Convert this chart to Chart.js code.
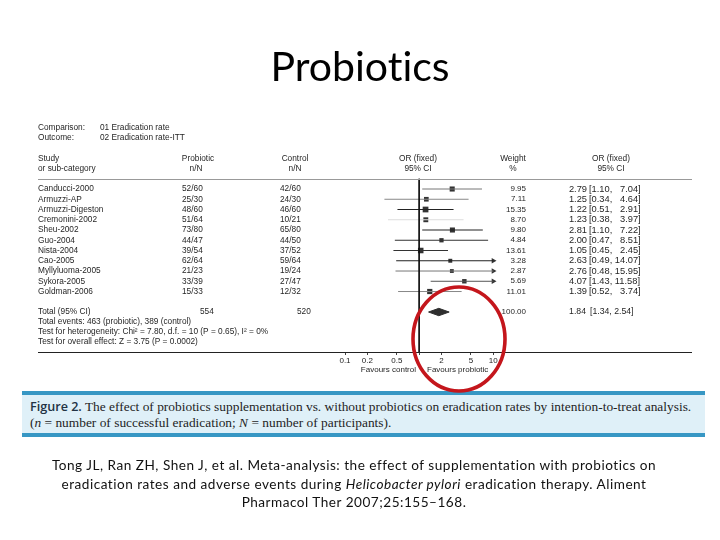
<!DOCTYPE html>
<html>
<head>
<meta charset="utf-8">
<script src="https://cdn.jsdelivr.net/npm/chart.js@4.4.1/dist/chart.umd.min.js"></script>
<style>
  html, body { margin: 0; padding: 0; background: #fff; }
  #page { position: relative; width: 720px; height: 540px; overflow: hidden; }
  #wrap { position: absolute; left: 0; top: 0; width: 720px; height: 540px; }
  h1 { position: absolute; left: 0; top: 45px; width: 720px; margin: 0; text-align: center;
       font: 400 41px/1 Lato, sans-serif; color: #000; font-variant-ligatures: none; }
  .caption { position: absolute; left: 22px; top: 391px; width: 683px; height: 46px; box-sizing: border-box;
       border-top: 4px solid #3797c4; border-bottom: 4px solid #3797c4; background: #dff0f8;
       padding: 3px 0 0 8px; font: 13.4px/16px "Liberation Serif", serif; color: #1e1e1e; white-space: nowrap; }
  .caption b { font: 600 12.6px "Open Sans", sans-serif; color: #223344; }
  .cite { position: absolute; left: -6px; top: 456px; width: 720px; text-align: center;
       font: 13.6px/18.5px Lato, sans-serif; letter-spacing: 0.5px; color: #111; font-variant-ligatures: none; }
  svg { position: absolute; left: 0; top: 0; }
</style>
</head>
<body>
<div id="page">
  <div id="wrap"><canvas id="forest"></canvas></div>
  <h1>Probiotics</h1>
  <div class="caption"><b>Figure 2.</b> The effect of probiotics supplementation vs. without probiotics on eradication rates by intention-to-treat analysis.<br>(<i>n</i> = number of successful eradication; <i>N</i> = number of participants).</div>
  <div class="cite">Tong JL, Ran ZH, Shen J, et al. Meta-analysis: the effect of supplementation with probiotics on<br>eradication rates and adverse events during <i>Helicobacter pylori</i> eradication therapy. Aliment<br>Pharmacol Ther 2007;25:155–168.</div>
  <svg width="720" height="540"><ellipse cx="459" cy="339" rx="46" ry="52" fill="none" stroke="#c4161c" stroke-width="3.6"/></svg>
</div>
<script>
const studies = ["Canducci-2000", "Armuzzi-AP", "Armuzzi-Digeston", "Cremonini-2002", "Sheu-2002", "Guo-2004",
  "Nista-2004", "Cao-2005", "Myllyluoma-2005", "Sykora-2005", "Goldman-2006"];
const probioticNN = ["52/60", "25/30", "48/60", "51/64", "73/80", "44/47", "39/54", "62/64", "21/23", "33/39", "15/33"];
const controlNN = ["42/60", "24/30", "46/60", "10/21", "65/80", "44/50", "37/52", "59/64", "19/24", "27/47", "12/32"];
const weights = [9.95, 7.11, 15.35, 8.70, 9.80, 4.84, 13.61, 3.28, 2.87, 5.69, 11.01];
const oddsRatio = [2.79, 1.25, 1.22, 1.23, 2.81, 2.00, 1.05, 2.63, 2.76, 4.07, 1.39];
const ciLow = [1.10, 0.34, 0.51, 0.38, 1.10, 0.47, 0.45, 0.49, 0.48, 1.43, 0.52];
const ciHigh = [7.04, 4.64, 2.91, 3.97, 7.22, 8.51, 2.45, 14.07, 15.95, 11.58, 3.74];
const totalN = ["554", "520"];
const totalWeight = "100.00";
const totalOR = 1.84, totalLow = 1.34, totalHigh = 2.54;
const xTicks = [0.1, 0.2, 0.5, 1, 2, 5, 10];

// line shades as they come out in the scanned figure
const ciShade = ["#777", "#888", "#222", "#ddd", "#222", "#333", "#333", "#222", "#777", "#555", "#888"];

const TOTAL_ROW = 12;
const AXIS_MAX = 10;
const fmt = v => v.toFixed(2);
// pad so the upper limits line up like the figure's column
const ciText = (lo, hi) => "[" + fmt(lo) + ", " + (hi < 10 ? "\u2007" : "") + fmt(hi) + "]";

const datasets = [];

// line of no effect
datasets.push({
  data: [{ x: 1, y: -1 }, { x: 1, y: 15.9 }],
  showLine: true, borderColor: "#111", borderWidth: 1, pointRadius: 0, clip: false,
});

// confidence intervals, cut at the end of the axis
studies.forEach((s, i) => {
  datasets.push({
    data: [{ x: ciLow[i], y: i }, { x: Math.min(ciHigh[i], AXIS_MAX), y: i }],
    showLine: true, borderColor: ciShade[i], borderWidth: 1, pointRadius: 0, clip: false,
  });
});

// arrow heads for intervals running off the axis
datasets.push({
  data: ciHigh.map((h, i) => (h > AXIS_MAX ? { x: AXIS_MAX, y: i } : null)).filter(Boolean),
  pointStyle: "triangle", rotation: 90, pointRadius: 3.2,
  backgroundColor: "#333", borderColor: "#333", borderWidth: 0, clip: false,
});

// study squares, sized by weight
datasets.push({
  data: oddsRatio.map((v, i) => ({ x: v, y: i })),
  pointStyle: "rect",
  pointRadius: weights.map(w => 1.7 + Math.sqrt(w) * 0.6),
  backgroundColor: "#333", borderColor: "#333", borderWidth: 0, clip: false,
});

// pooled diamond
datasets.push({
  data: [
    { x: totalLow, y: TOTAL_ROW }, { x: totalOR, y: TOTAL_ROW - 0.36 },
    { x: totalHigh, y: TOTAL_ROW }, { x: totalOR, y: TOTAL_ROW + 0.36 }, { x: totalLow, y: TOTAL_ROW },
  ],
  showLine: true, fill: "shape", borderColor: "#2e2e2e", backgroundColor: "#2e2e2e",
  borderWidth: 1, pointRadius: 0, clip: false,
});

const tablePlugin = {
  id: "forestTable",
  afterDraw(chart) {
    const { ctx, scales: { y }, chartArea } = chart;
    const rowY = r => y.getPixelForValue(r);
    const txt = (s, px, r, align = "left", size = 8.3) => {
      ctx.font = size + 'px "Liberation Sans", Arial, sans-serif';
      ctx.textAlign = align;
      ctx.fillText(s, px, rowY(r));
    };
    ctx.save();
    ctx.fillStyle = "#262626";
    ctx.textBaseline = "middle";

    txt("Comparison:", 38, -6); txt("01 Eradication rate", 100, -6);
    txt("Outcome:", 38, -5); txt("02 Eradication rate-ITT", 100, -5);

    txt("Study", 38, -3); txt("or sub-category", 38, -2);
    txt("Probiotic", 198, -3, "center"); txt("n/N", 196, -2, "center");
    txt("Control", 295, -3, "center"); txt("n/N", 295, -2, "center");
    txt("OR (fixed)", 418, -3, "center"); txt("95% CI", 418, -2, "center");
    txt("Weight", 513, -3, "center"); txt("%", 513, -2, "center");
    txt("OR (fixed)", 611, -3, "center"); txt("95% CI", 611, -2, "center");

    studies.forEach((s, i) => {
      txt(s, 38, i);
      txt(probioticNN[i], 182, i);
      txt(controlNN[i], 280, i);
      txt(fmt(weights[i]), 526, i, "right", 8);
      txt(fmt(oddsRatio[i]), 587, i, "right", 9.3);
      txt(ciText(ciLow[i], ciHigh[i]), 589, i, "left", 9.3);
    });

    txt("Total (95% CI)", 38, TOTAL_ROW);
    txt(totalN[0], 200, TOTAL_ROW);
    txt(totalN[1], 297, TOTAL_ROW);
    txt(totalWeight, 526, TOTAL_ROW, "right", 8);
    txt(fmt(totalOR), 586, TOTAL_ROW, "right", 8.7);
    txt("[" + fmt(totalLow) + ", " + fmt(totalHigh) + "]", 590, TOTAL_ROW, "left", 8.7);
    txt("Total events: 463 (probiotic), 389 (control)", 38, 12.9);
    txt("Test for heterogeneity: Chi² = 7.80, d.f. = 10 (P = 0.65), I² = 0%", 38, 13.95);
    txt("Test for overall effect: Z = 3.75 (P = 0.0002)", 38, 14.9);

    ctx.font = '8px "Liberation Sans", Arial, sans-serif';
    ctx.textAlign = "right";
    ctx.fillText("Favours control", 416, chartArea.bottom + 18);
    ctx.textAlign = "left";
    ctx.fillText("Favours probiotic", 427, chartArea.bottom + 18);

    // header rule and axis rule across the whole figure
    ctx.lineWidth = 1;
    ctx.strokeStyle = "#999";
    ctx.beginPath();
    ctx.moveTo(38, Math.round(rowY(-1)) + 0.5);
    ctx.lineTo(692, Math.round(rowY(-1)) + 0.5);
    ctx.stroke();
    ctx.strokeStyle = "#222";
    ctx.beginPath();
    ctx.moveTo(38, Math.round(chartArea.bottom) + 0.5);
    ctx.lineTo(692, Math.round(chartArea.bottom) + 0.5);
    ctx.stroke();
    ctx.restore();
  },
};

new Chart(document.getElementById("forest"), {
  type: "scatter",
  data: { datasets },
  options: {
    responsive: true,
    maintainAspectRatio: false,
    animation: false,
    layout: { padding: { left: 345, right: 226.7, top: 117.25, bottom: 173.4 } },
    plugins: { legend: { display: false }, tooltip: { enabled: false } },
    scales: {
      x: {
        type: "logarithmic",
        min: 0.1,
        max: AXIS_MAX,
        afterBuildTicks: s => { s.ticks = xTicks.map(v => ({ value: v })); },
        ticks: {
          autoSkip: false, maxRotation: 0, padding: 1, color: "#222",
          font: { family: "Liberation Sans", size: 8 },
          callback: v => (v === 1 ? "" : String(v)),
        },
        grid: { drawOnChartArea: false, drawTicks: true, tickLength: 3, color: "#444" },
        border: { display: false },
      },
      y: { type: "linear", reverse: true, min: -7, max: 15.9, display: false },
    },
  },
  plugins: [tablePlugin],
});
</script>
</body>
</html>
